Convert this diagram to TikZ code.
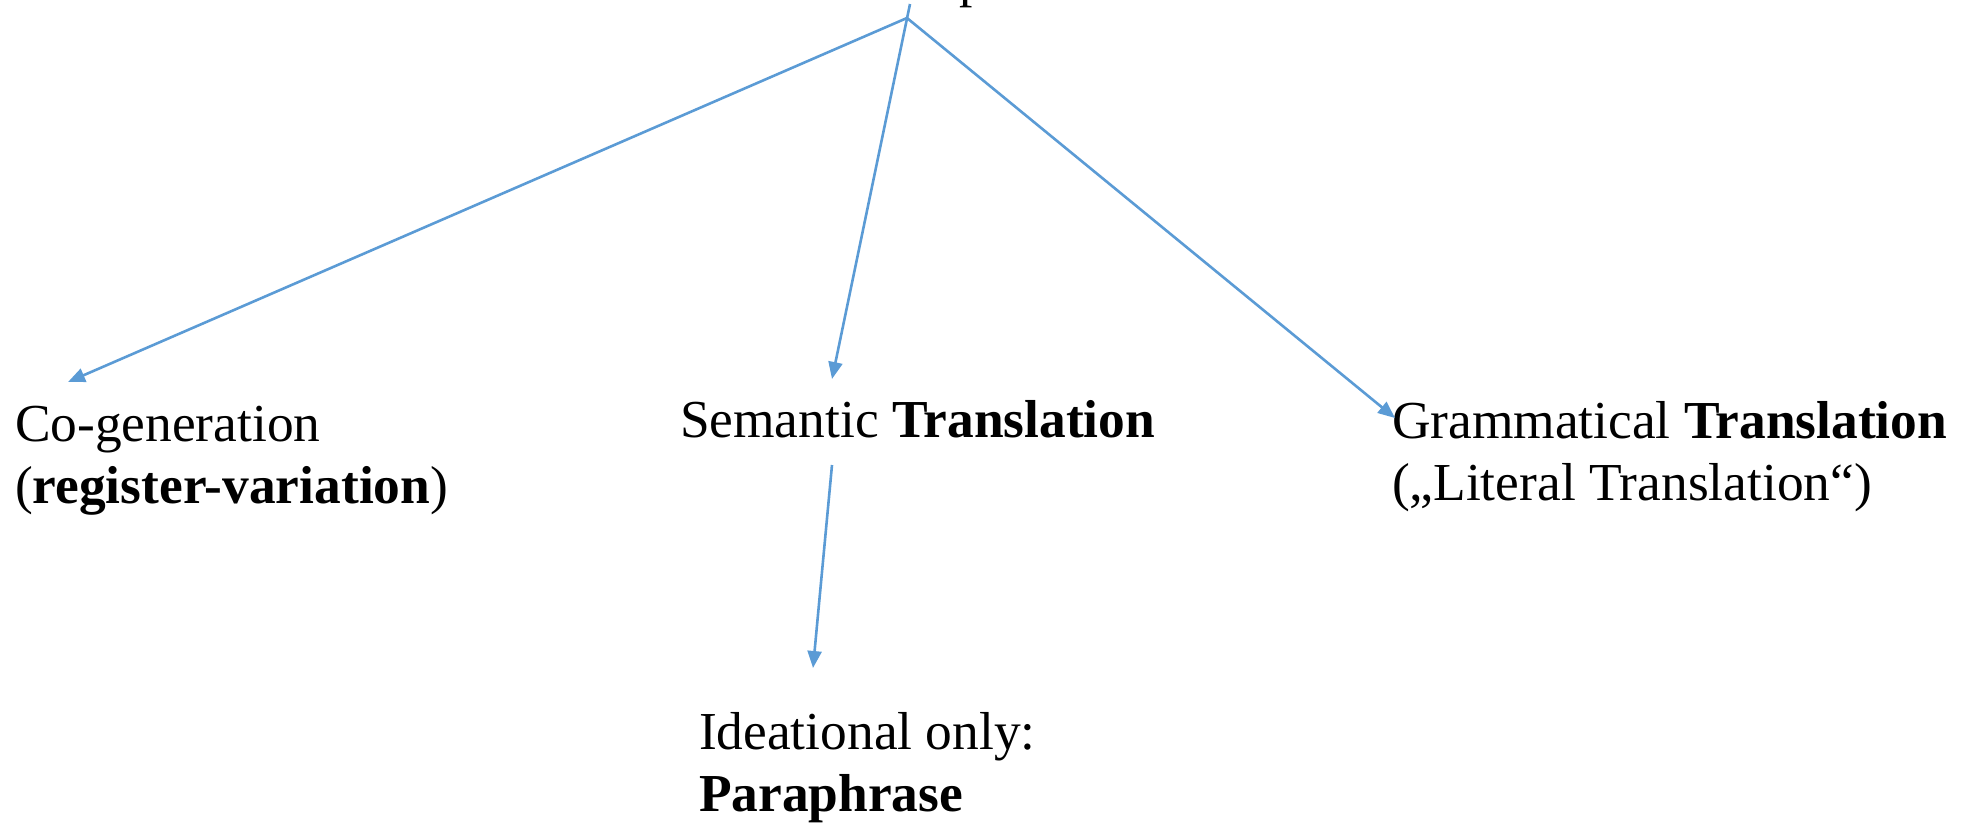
\documentclass[tikz,border=0pt]{standalone}
\usepackage{fontspec}
\setmainfont{Liberation Serif}
\usetikzlibrary{arrows.meta}
\definecolor{linkblue}{RGB}{91,155,213}
\begin{document}
\begin{tikzpicture}[x=0.5pt,y=-0.5pt,
  label/.style={inner sep=0pt, outer sep=0pt, anchor=base west, align=left,
    font=\fontsize{26.7}{31}\selectfont},
  link/.style={draw=linkblue, line width=1.3pt,
    -{Triangle[length=8.5pt,width=7pt]}}]
  \useasboundingbox (0,0) rectangle (1964,826);
  \clip (0,0) rectangle (1964,826);

  % heading above the frame, only its descender shows
  \node[label] (head) at (959,-4) {p};

  % branching points and arrow ends
  \coordinate (top) at (910,4);
  \coordinate (fork) at (907,18);
  \coordinate (tipL) at (68,382);
  \coordinate (tipM) at (832,379);
  \coordinate (tipR) at (1395,418);
  \coordinate (semfoot) at (832,465);
  \coordinate (tipB) at (813,668);

  % labels (base anchor sits on the last line)
  \node[label] (cogen) at (15,503) {Co-generation\\(\textbf{register-variation})};
  \node[label] (sem) at (680,437) {Semantic \textbf{Translation}};
  \node[label] (gram) at (1392,500) {Grammatical \textbf{Translation}\\(„Literal Translation“)};
  \node[label] (idea) at (699,811) {Ideational only:\\\textbf{Paraphrase}};

  % connectors
  \draw[link] (top) -- (tipM);
  \draw[link] (fork) -- (tipL);
  \draw[link] (fork) -- (tipR);
  \draw[link] (semfoot) -- (tipB);
\end{tikzpicture}
\end{document}
